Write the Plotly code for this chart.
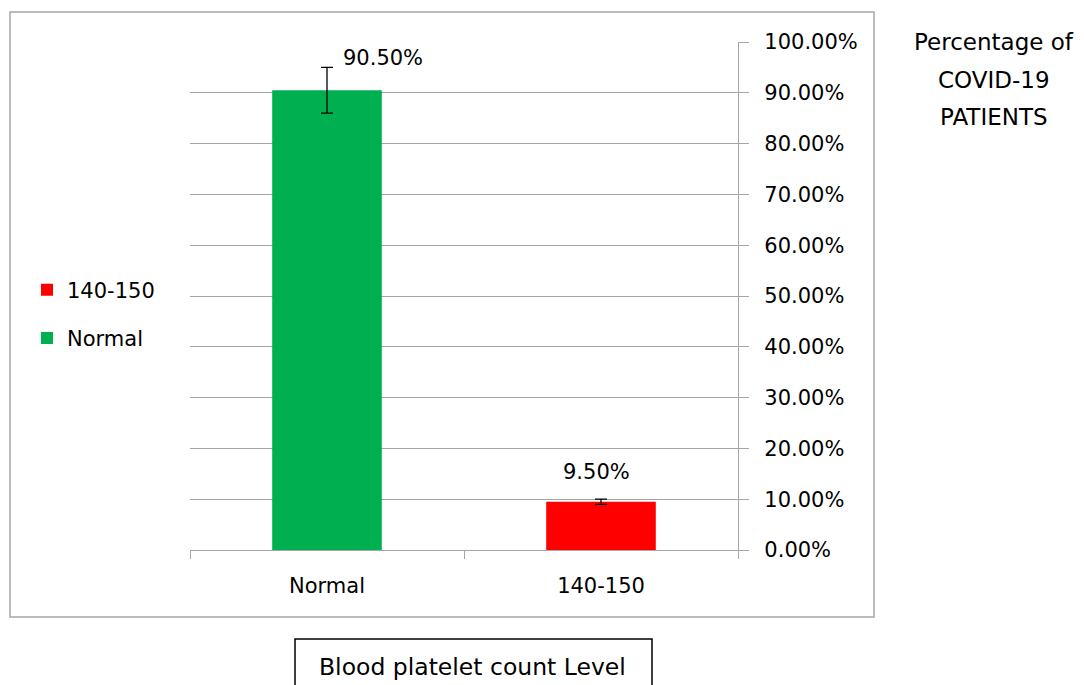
import plotly.graph_objects as go

# ---- data ----
categories = ["Normal", "140-150"]
values = [0.905, 0.095]
errors = [0.045, 0.005]
bar_colors = ["#00B050", "#FF0000"]
y_tick_vals = [0.0, 0.1, 0.2, 0.3, 0.4, 0.5, 0.6, 0.7, 0.8, 0.9, 1.0]
axis_title_lines = ["Percentage of", "COVID-19", "PATIENTS"]
x_title = "Blood platelet count Level"

FONT = "DejaVu Sans"
GRID = "#a6a6a6"

PAGE_W, PAGE_H = 1084, 685
OFF = 8  # default body margin of the html page
W, H = PAGE_W - OFF, PAGE_H - OFF
L, R, T, B = 190, 738, 42, 550  # plot area in screen px


def px_x(p):
    return (p - L) / (R - L)


def px_y(p):
    return (B - p) / (B - T)


fig = go.Figure()
# legend lists 140-150 first, so add traces in reverse category order
for i in reversed(range(len(categories))):
    cat = categories[i]
    fig.add_trace(go.Bar(
        x=[cat], y=[values[i]], name=cat,
        marker=dict(color=bar_colors[i], line=dict(width=0)),
        width=0.4,
        legendgroup=cat,
        error_y=dict(type="data", array=[errors[i]], visible=True,
                     color="black", thickness=1.3, width=6),
        hoverinfo="skip",
    ))

# data labels
label_shifts = [(56, 18), (-5, 16)]
for i, cat in enumerate(categories):
    fig.add_annotation(
        x=cat, y=values[i], xref="x", yref="y",
        text=f"{values[i]:.2%}", showarrow=False,
        xshift=label_shifts[i][0], yshift=label_shifts[i][1],
        yanchor="bottom", font=dict(family=FONT, size=21, color="black"),
    )

# right-hand axis title lines
title_y_px = [42, 80, 117]
for line, ypx in zip(axis_title_lines, title_y_px):
    fig.add_annotation(
        x=px_x(994), y=px_y(ypx), xref="paper", yref="paper",
        text=line, showarrow=False, xanchor="center", yanchor="middle",
        font=dict(family=FONT, size=23, color="black"),
    )

# chart border
fig.add_shape(type="rect", xref="paper", yref="paper",
              x0=px_x(10), x1=px_x(874), y0=px_y(617), y1=px_y(12),
              line=dict(color=GRID, width=1.5), layer="below")

# x title box
fig.add_shape(type="rect", xref="paper", yref="paper",
              x0=px_x(295), x1=px_x(652), y0=px_y(639), y1=px_y(710),
              line=dict(color="black", width=1.5))
fig.add_annotation(x=px_x(472), y=px_y(667), xref="paper", yref="paper",
                   text=x_title, showarrow=False, xanchor="center", yanchor="middle",
                   font=dict(family=FONT, size=23.5, color="black"))

fig.update_layout(
    width=W, height=H,
    margin=dict(l=L - OFF, r=PAGE_W - R, t=T - OFF, b=PAGE_H - B, pad=0),
    paper_bgcolor="white", plot_bgcolor="white",
    barmode="overlay",
    showlegend=True,
    legend=dict(
        x=px_x(27), y=px_y(314), xanchor="left", yanchor="middle",
        traceorder="grouped", tracegroupgap=18,
        font=dict(family=FONT, size=21, color="black"),
        itemwidth=30, bgcolor="rgba(0,0,0,0)",
    ),
    font=dict(family=FONT, size=21, color="black"),
    xaxis=dict(
        type="category", categoryorder="array", categoryarray=categories,
        showline=True, linecolor=GRID, linewidth=1.3,
        ticks="outside", ticklen=8, tickcolor=GRID, tickwidth=1.3,
        tickson="boundaries", showgrid=False,
        tickfont=dict(family=FONT, size=21, color="black"),
        ticklabelstandoff=17,
    ),
    yaxis=dict(
        side="right", range=[0, 1], tickvals=y_tick_vals, tickformat=".2%",
        showgrid=True, gridcolor=GRID, gridwidth=1.3,
        showline=True, linecolor=GRID, linewidth=1.3,
        ticks="outside", ticklen=10, tickcolor=GRID, tickwidth=1.3,
        zeroline=False,
        tickfont=dict(family=FONT, size=21, color="black"),
        ticklabelstandoff=11,
    ),
)

fig.write_html("out.html")
